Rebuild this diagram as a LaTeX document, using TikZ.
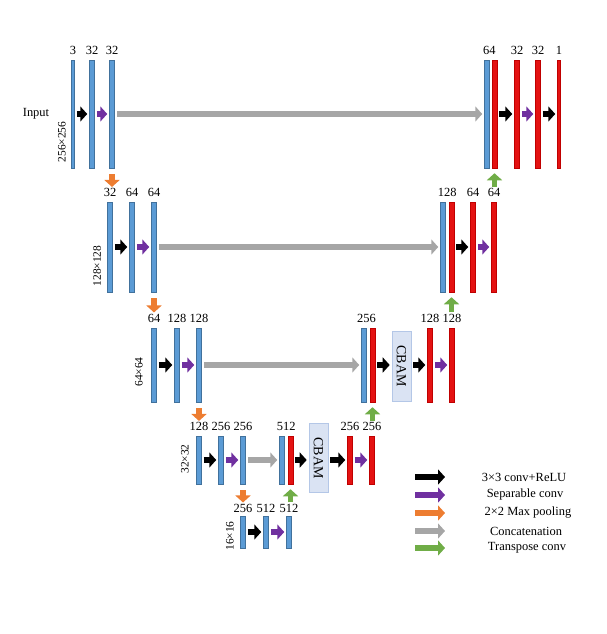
\documentclass[tikz,border=0pt]{standalone}
\usepackage{fontspec}
\setmainfont{Liberation Serif}
\usetikzlibrary{arrows.meta, positioning, calc}

\definecolor{encfill}{HTML}{5B9BD5}
\definecolor{encline}{HTML}{41719C}
\definecolor{decfill}{HTML}{E41212}
\definecolor{decline}{HTML}{C00000}
\definecolor{sepcol}{HTML}{7030A0}
\definecolor{poolcol}{HTML}{ED7D31}
\definecolor{catcol}{HTML}{A6A6A6}
\definecolor{upcol}{HTML}{70AD47}
\definecolor{cbamfill}{HTML}{DAE3F3}
\definecolor{cbamline}{HTML}{B4C7E7}

\begin{document}
\begin{tikzpicture}[x=1bp, y=-1bp,
  font=\fontsize{12.5}{14}\selectfont,
  enc/.style={draw=encline, fill=encfill, line width=0.5bp, inner sep=0pt,
              minimum width=5bp, minimum height=#1},
  dec/.style={draw=decline, fill=decfill, line width=0.5bp, inner sep=0pt,
              minimum width=5bp, minimum height=#1},
  thin/.style={minimum width=3bp},
  num/.style={inner sep=0pt, anchor=south},
  dim/.style={inner sep=0pt, rotate=90, font=\fontsize{11.5}{13}\selectfont},
  cbam/.style={draw=cbamline, fill=cbamfill, line width=0.6bp, inner sep=0pt,
               minimum width=19bp, minimum height=#1},
  blockarrow/.style={line width=5.5bp, -{Triangle[length=7bp, width=15bp]}},
  harrow/.style={blockarrow, shorten <=2bp, shorten >=2bp},
  conv/.style={harrow, draw=black},
  sep/.style={harrow, draw=sepcol},
  cat/.style={harrow, draw=catcol},
  pool/.style={blockarrow, draw=poolcol, shorten <=6bp, shorten >=1.5bp},
  up/.style={blockarrow, draw=upcol, shorten <=1.5bp, shorten >=5bp},
  key/.style={blockarrow},
]
  \useasboundingbox (0,0) rectangle (607,634);

  % level 1 (256x256)
  \node[enc=108bp, thin] (a1) at (73,114) {};
  \node[enc=108bp] (a2) at (92,114) {};
  \node[enc=108bp] (a3) at (112,114) {};
  \node[enc=108bp] (u0) at (487,114) {};
  \node[dec=108bp, right=2bp of u0] (u1) {};
  \node[dec=108bp] (u2) at (517,114) {};
  \node[dec=108bp] (u3) at (538,114) {};
  \node[dec=108bp, thin] (u4) at (559,114) {};
  \node[num, above=5bp of a1.north] (a1n) {3};
  \node[num, above=5bp of a2.north] (a2n) {32};
  \node[num, above=5bp of a3.north] (a3n) {32};
  \node[num] (u0n) at ($(u0.north)!.3!(u1.north)+(0,-5)$) {64};
  \node[num, above=5bp of u2.north] (u2n) {32};
  \node[num, above=5bp of u3.north] (u3n) {32};
  \node[num, above=5bp of u4.north] (u4n) {1};
  \node (inp) at (36,114) {Input};
  \node[dim] (a1d) at (62,142) {256×256};

  % level 2 (128x128)
  \node[enc=90bp] (b1) at (110,247) {};
  \node[enc=90bp] (b2) at (132,247) {};
  \node[enc=90bp] (b3) at (154,247) {};
  \node[enc=90bp] (v0) at (443,247) {};
  \node[dec=90bp, right=3bp of v0] (v1) {};
  \node[dec=90bp] (v2) at (473,247) {};
  \node[dec=90bp] (v3) at (494,247) {};
  \node[num, above=4.5bp of b1.north] (b1n) {32};
  \node[num, above=4.5bp of b2.north] (b2n) {64};
  \node[num, above=4.5bp of b3.north] (b3n) {64};
  \node[num] (v0n) at ($(v0.north)!.5!(v1.north)+(0,-4.5)$) {128};
  \node[num, above=4.5bp of v2.north] (v2n) {64};
  \node[num, above=4.5bp of v3.north] (v3n) {64};
  \node[dim] (b1d) at (97,266) {128×128};

  % level 3 (64x64)
  \node[enc=74bp] (c1) at (154,365) {};
  \node[enc=74bp] (c2) at (177,365) {};
  \node[enc=74bp] (c3) at (199,365) {};
  \node[enc=74bp] (w0) at (364,365) {};
  \node[dec=74bp, right=3bp of w0] (w1) {};
  \node[cbam=70bp] (cb1) at (401.5,366) {\rotatebox{-90}{\fontsize{14}{16}\selectfont CBAM}};
  \node[dec=74bp] (w2) at (430,365) {};
  \node[dec=74bp] (w3) at (452,365) {};
  \node[num, above=5bp of c1.north] (c1n) {64};
  \node[num, above=5bp of c2.north] (c2n) {128};
  \node[num, above=5bp of c3.north] (c3n) {128};
  \node[num] (w0n) at ($(w0.north)!.3!(w1.north)+(0,-5)$) {256};
  \node[num, above=5bp of w2.north] (w2n) {128};
  \node[num, above=5bp of w3.north] (w3n) {128};
  \node[dim] (c1d) at (139,372) {64×64};

  % level 4 (32x32)
  \node[enc=48bp] (d1) at (199,460) {};
  \node[enc=48bp] (d2) at (221,460) {};
  \node[enc=48bp] (d3) at (243,460) {};
  \node[enc=48bp] (x0) at (282,460) {};
  \node[dec=48bp, right=3bp of x0] (x1) {};
  \node[cbam=69bp] (cb2) at (318.5,458) {\rotatebox{-90}{\fontsize{14}{16}\selectfont CBAM}};
  \node[dec=48bp] (x2) at (350,460) {};
  \node[dec=48bp] (x3) at (372,460) {};
  \node[num, above=4.5bp of d1.north] (d1n) {128};
  \node[num, above=4.5bp of d2.north] (d2n) {256};
  \node[num, above=4.5bp of d3.north] (d3n) {256};
  \node[num] (x0n) at ($(x0.north)!.5!(x1.north)+(0,-4.5)$) {512};
  \node[num, above=4.5bp of x2.north] (x2n) {256};
  \node[num, above=4.5bp of x3.north] (x3n) {256};
  \node[dim] (d1d) at (185,459) {32×32};

  % level 5 (16x16)
  \node[enc=32bp] (e1) at (243,532) {};
  \node[enc=32bp] (e2) at (266,532) {};
  \node[enc=32bp] (e3) at (289,532) {};
  \node[num, above=3bp of e1.north] (e1n) {256};
  \node[num, above=3bp of e2.north] (e2n) {512};
  \node[num, above=3bp of e3.north] (e3n) {512};
  \node[dim] (e1d) at (230,536) {16×16};

  % arrows along each level
  \draw[conv] (a1) -- (a2);
  \draw[sep] (a2) -- (a3);
  \draw[cat] (a3) -- (u0);
  \draw[conv] (u1) -- (u2);
  \draw[sep] (u2) -- (u3);
  \draw[conv] (u3) -- (u4);

  \draw[conv] (b1) -- (b2);
  \draw[sep] (b2) -- (b3);
  \draw[cat] (b3) -- (v0);
  \draw[conv] (v1) -- (v2);
  \draw[sep] (v2) -- (v3);

  \draw[conv] (c1) -- (c2);
  \draw[sep] (c2) -- (c3);
  \draw[cat] (c3) -- (w0);
  \draw[conv] (w1.east) -- (w1.east -| cb1.west);
  \draw[conv] (cb1.east |- w2) -- (w2);
  \draw[sep] (w2) -- (w3);

  \draw[conv] (d1) -- (d2);
  \draw[sep] (d2) -- (d3);
  \draw[cat] (d3) -- (x0);
  \draw[conv] (x1.east) -- (x1.east -| cb2.west);
  \draw[conv] (cb2.east |- x2) -- (x2);
  \draw[sep] (x2) -- (x3);

  \draw[conv] (e1) -- (e2);
  \draw[sep] (e2) -- (e3);

  % down and up between levels
  \draw[pool] (a3.south) -- (a3.south |- b1n.north);
  \draw[pool] (b3.south) -- (b3.south |- c1n.north);
  \draw[pool] (c3.south) -- (c3.south |- d1n.north);
  \draw[pool] (d3.south) -- (d3.south |- e1n.north);
  \draw[up] (u1.south |- v3n.north) -- (u1.south);
  \draw[up] (v1.south |- w3n.north) -- (v1.south);
  \draw[up] (w1.south |- x3n.north) -- (w1.south);
  \draw[up] (x1.south |- e3n.north) -- (x1.south);

  % legend
  \coordinate (k1a) at (415,477); \coordinate (k1b) at (445,477);
  \coordinate (k2a) at (415,495); \coordinate (k2b) at (445,495);
  \coordinate (k3a) at (415,513); \coordinate (k3b) at (445,513);
  \coordinate (k4a) at (415,531); \coordinate (k4b) at (445,531);
  \coordinate (k5a) at (415,548); \coordinate (k5b) at (445,548);
  \draw[key, draw=black] (k1a) -- (k1b);
  \draw[key, draw=sepcol] (k2a) -- (k2b);
  \draw[key, draw=poolcol] (k3a) -- (k3b);
  \draw[key, draw=catcol] (k4a) -- (k4b);
  \draw[key, draw=upcol] (k5a) -- (k5b);
  \node (k1t) at (524,477) {3×3 conv+ReLU};
  \node (k2t) at (525,495) {Separable conv};
  \node (k3t) at (528,513) {2×2 Max pooling};
  \node (k4t) at (526,531) {Concatenation};
  \node (k5t) at (527,548) {Transpose conv};
\end{tikzpicture}
\end{document}
